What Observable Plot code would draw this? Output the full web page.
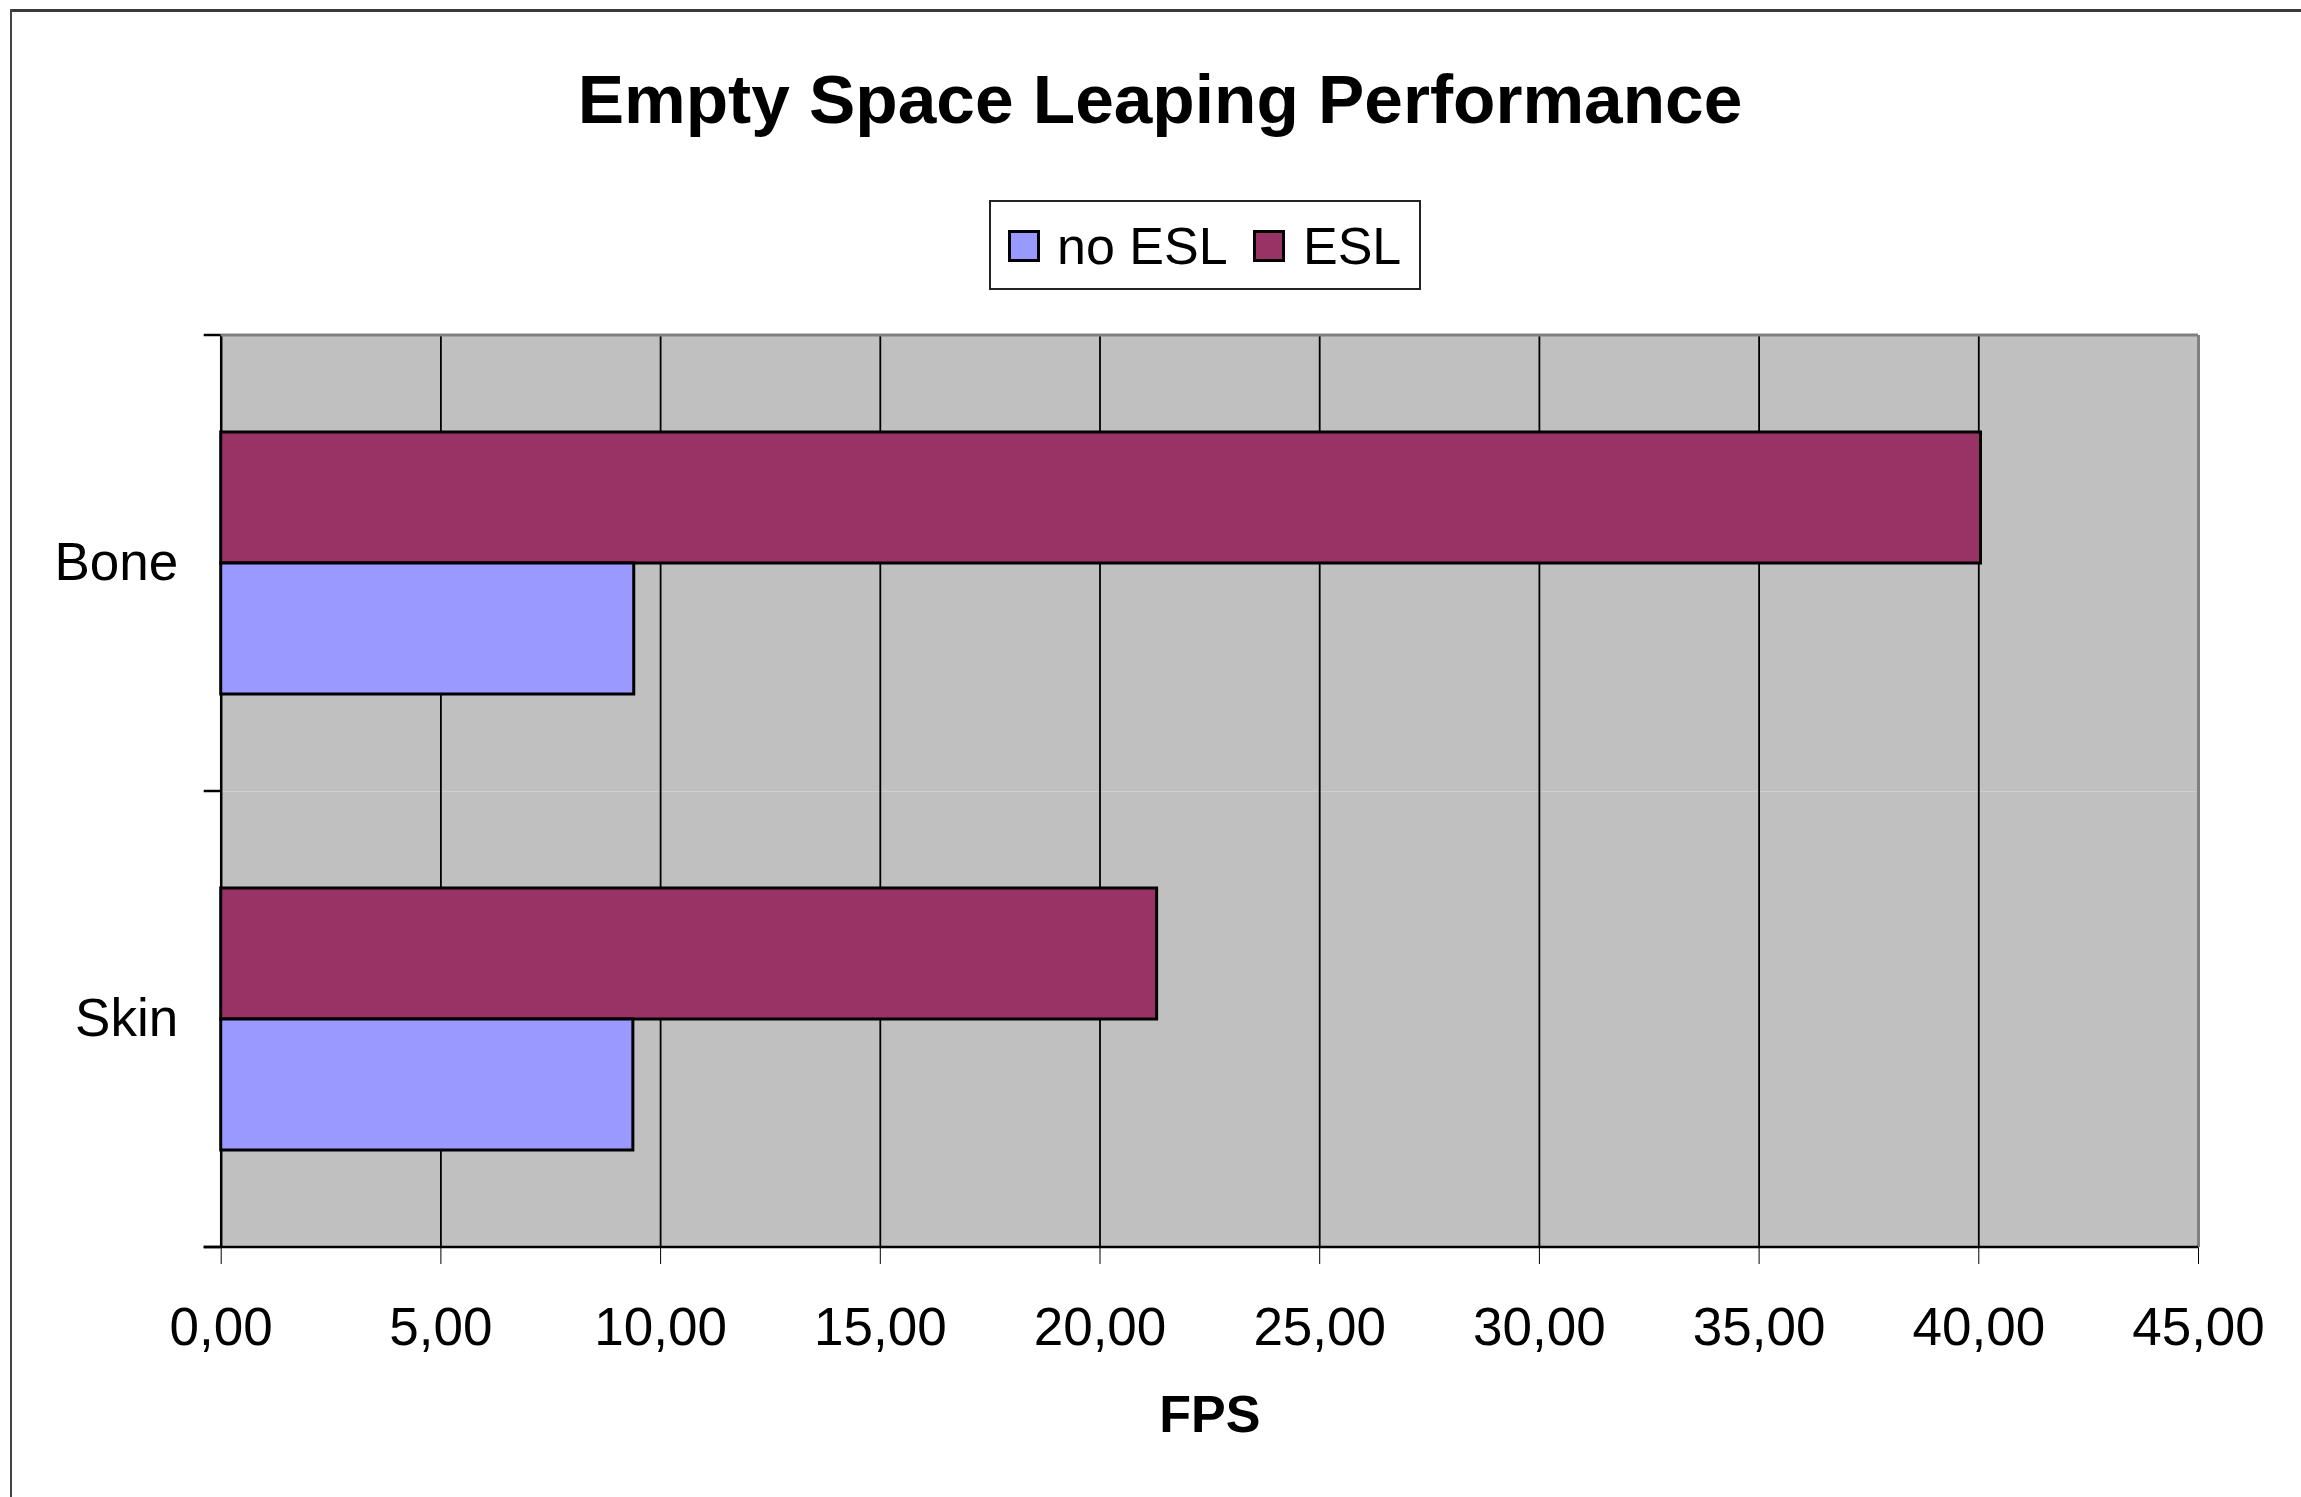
<!DOCTYPE html>
<html>
<head>
<meta charset="utf-8">
<script src="https://cdn.jsdelivr.net/npm/d3@7"></script>
<script src="https://cdn.jsdelivr.net/npm/@observablehq/plot@0.6"></script>
<style>
  html, body { margin: 0; padding: 0; background: #fff; }
  #page {
    position: relative; width: 2301px; height: 1497px; overflow: hidden;
    background: #fff; font-family: "Liberation Sans", Arial, sans-serif; color: #000;
  }
  #edge-top { position: absolute; left: 10px; top: 9px; width: 2400px; height: 3px; background: #3a3a3a; }
  #edge-left { position: absolute; left: 10px; top: 9px; width: 2px; height: 1600px; background: #444; }
  #title {
    position: absolute; left: 0; top: 64.5px; width: 2320px; text-align: center;
    font-weight: bold; font-size: 69.4px; line-height: 69.4px; white-space: nowrap;
  }
  #legend {
    position: absolute; left: 989px; top: 200px; width: 428px; height: 86px;
    border: 2px solid #222; background: #fff; box-sizing: content-box;
  }
  .swatch { position: absolute; top: 28px; width: 26px; height: 26px; border: 3px solid #000; box-sizing: content-box; }
  .label { position: absolute; top: 17.5px; font-size: 52px; line-height: 52px; white-space: nowrap; }
  #plot { position: absolute; left: 0; top: 300px; }
</style>
</head>
<body>
<div id="page">
  <div id="edge-top"></div>
  <div id="edge-left"></div>
  <div id="title"></div>
  <div id="legend"></div>
  <div id="plot"></div>
</div>
<script>
// Frames per second for each data set, with and without empty space leaping
const categories = ["Bone", "Skin"];
const seriesNames = ["no ESL", "ESL"];
const noEslFps = [9.4, 9.38];
const eslFps = [40.05, 21.3];
const seriesColors = ["#9999FF", "#993366"];
const xTicks = [0, 5, 10, 15, 20, 25, 30, 35, 40, 45];
const xLabel = "FPS";
const titleText = "Empty Space Leaping Performance";

(function draw() {
  // ESL bar sits above the no-ESL bar inside each category
  const rows = categories.flatMap((category, i) => [
    {category, series: "ESL", value: eslFps[i]},
    {category, series: "no ESL", value: noEslFps[i]}
  ]);

  document.getElementById("title").textContent = titleText;

  // Legend: swatch + name for each series
  const legend = document.getElementById("legend");
  const itemLayout = [{swatch: 17, label: 66}, {swatch: 262, label: 312}];
  seriesNames.forEach((name, i) => {
    const sw = document.createElement("div");
    sw.className = "swatch";
    sw.style.left = itemLayout[i].swatch + "px";
    sw.style.background = seriesColors[i];
    const lb = document.createElement("div");
    lb.className = "label";
    lb.style.left = itemLayout[i].label + "px";
    lb.textContent = name;
    legend.append(sw, lb);
  });

  const fmt = d => d.toFixed(2).replace(".", ",");

  const plot = Plot.plot({
    width: 2301,
    height: 1197,
    marginTop: 35,
    marginBottom: 250,
    marginLeft: 220.7,
    marginRight: 103,
    style: {fontFamily: "'Liberation Sans', Arial, sans-serif", fontSize: "53px", color: "#000", background: "transparent", overflow: "visible"},
    facet: {data: rows, y: "category"},
    fy: {domain: categories, padding: 0, axis: "left", label: null, tickSize: 0, tickPadding: 43},
    y: {domain: ["ESL", "no ESL"], paddingInner: 0, paddingOuter: 0.74, axis: null},
    x: {domain: [0, 45], ticks: xTicks, tickFormat: fmt, tickSize: 17, tickPadding: 43,
        label: xLabel, labelAnchor: "center", labelArrow: false, labelOffset: 184},
    color: {domain: seriesNames, range: seriesColors},
    marks: [
      Plot.frame({fill: "#C0C0C0", stroke: null}),
      Plot.ruleX(xTicks.slice(1, -1), {stroke: "#000", strokeWidth: 1.8}),
      Plot.ruleX([xTicks[0]], {stroke: "#000", strokeWidth: 2.5}),
      Plot.ruleX([xTicks[xTicks.length - 1]], {stroke: "#808080", strokeWidth: 3}),
      Plot.barX(rows, {x: "value", y: "series", fill: "series", stroke: "#000", strokeWidth: 3})
    ]
  });

  document.getElementById("plot").append(plot);

  // Plot-area border and category tick marks, positioned with the chart's scales
  const svg = d3.select(plot);
  const xs = plot.scale("x");
  const fys = plot.scale("fy");
  const band = d3.scaleBand().domain(fys.domain).range(fys.range).paddingInner(0).paddingOuter(0);
  const xStart = xs.apply(xTicks[0]);
  const xEnd = xs.apply(xTicks[xTicks.length - 1]);
  const yTop = band(categories[0]);
  const yBottom = band(categories[categories.length - 1]) + band.bandwidth();
  const deco = svg.append("g");
  deco.append("line").attr("x1", xStart).attr("x2", xEnd).attr("y1", yTop).attr("y2", yTop)
    .attr("stroke", "#808080").attr("stroke-width", 3);
  deco.append("line").attr("x1", xStart - 17).attr("x2", xEnd).attr("y1", yBottom).attr("y2", yBottom)
    .attr("stroke", "#000").attr("stroke-width", 2.5);
  const bounds = categories.map(c => band(c)).concat([yBottom]);
  deco.selectAll(".cat-tick").data(bounds).join("line")
    .attr("x1", xStart - 17).attr("x2", xStart).attr("y1", d => d).attr("y2", d => d)
    .attr("stroke", "#000").attr("stroke-width", 2.5);

  // Bold axis title
  svg.selectAll("text").filter(function () { return this.textContent.trim() === xLabel; })
    .attr("font-weight", "bold").attr("font-size", "52px");
})();
</script>
</body>
</html>
